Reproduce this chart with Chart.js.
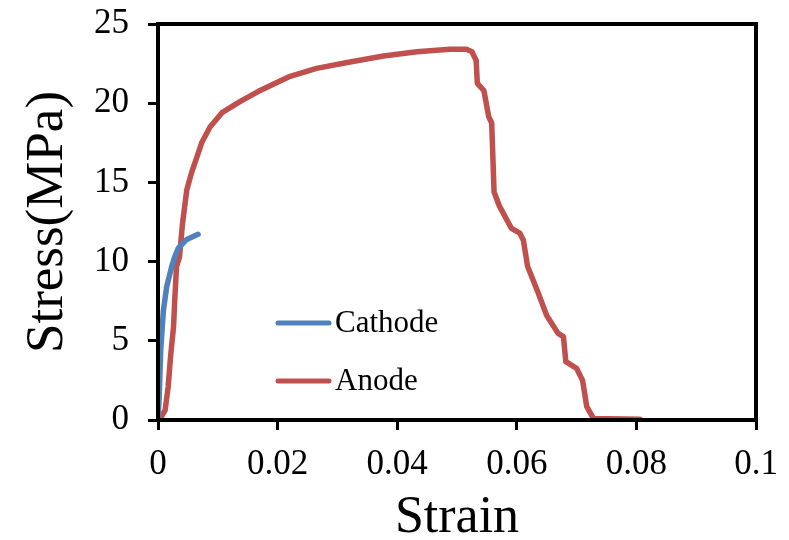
<!DOCTYPE html>
<html>
<head>
<meta charset="utf-8">
<script src="https://cdn.jsdelivr.net/npm/chart.js@4.4.0/dist/chart.umd.min.js"></script>
<style>
  html, body { margin: 0; padding: 0; background: #fff; }
  #wrap { width: 789px; height: 540px; }
</style>
</head>
<body>
<div id="wrap"><canvas id="stressChart" width="789" height="540"></canvas></div>
<script>
// strain / stress values
const cathodeStrain = [0, 0.0002, 0.00045, 0.0009, 0.00145, 0.0023, 0.0028, 0.0034, 0.0048, 0.0067];
const cathodeStress = [0, 1.5, 4.4, 6.9, 8.4, 9.7, 10.3, 10.85, 11.4, 11.72];

const anodeStrain = [0, 0.0003, 0.0012, 0.0017, 0.0021, 0.0026, 0.0028, 0.0031, 0.0036, 0.0041,
    0.0048, 0.0056, 0.0065, 0.0073, 0.0087, 0.0107, 0.0137, 0.0168, 0.0221, 0.0265,
    0.0321, 0.0377, 0.0433, 0.0488, 0.0516, 0.0525, 0.0532, 0.0534, 0.0545, 0.0553,
    0.0558, 0.0562, 0.0571, 0.0591, 0.0605, 0.0611, 0.0618, 0.0636, 0.0650, 0.0669,
    0.0678, 0.0682, 0.0700, 0.0710, 0.0717, 0.0728, 0.0806];
const anodeStress = [0, 0.05, 0.63, 2.1, 4.0, 5.9, 7.6, 9.7, 10.3, 12.4,
    14.5, 15.6, 16.6, 17.5, 18.5, 19.4, 20.1, 20.75, 21.7, 22.2,
    22.6, 22.98, 23.25, 23.4, 23.4, 23.25, 22.7, 21.25, 20.8, 19.15,
    18.75, 14.4, 13.5, 12.1, 11.8, 11.35, 9.7, 8.0, 6.6, 5.47,
    5.26, 3.68, 3.26, 2.5, 0.84, 0.1, 0.05];

const seriesNames = ['Cathode', 'Anode'];
const seriesColors = ['#4F81BD', '#C0504D'];

function toPoints(xs, ys) {
    return xs.map((x, i) => ({ x: x, y: ys[i] }));
}

const serif = 'Liberation Serif, Times New Roman, serif';

// box around the plot + legend inside the plot
const boxAndLegend = {
    id: 'boxAndLegend',
    afterDatasetsDraw(chart) {
        const c = chart.ctx;
        const a = chart.chartArea;
        c.save();
        c.strokeStyle = '#000';
        c.lineWidth = 4;
        c.strokeRect(a.left, a.top, a.right - a.left, a.bottom - a.top);

        const rows = [323, 381];
        chart.data.datasets.forEach(function(ds, i) {
            const y = rows[i];
            c.beginPath();
            c.lineCap = 'round';
            c.lineWidth = 5;
            c.strokeStyle = ds.borderColor;
            c.moveTo(278, y);
            c.lineTo(329, y);
            c.stroke();
            c.fillStyle = '#000';
            c.font = '31px ' + serif;
            c.textBaseline = 'middle';
            c.textAlign = 'left';
            c.fillText(ds.label, 335, y + 1);
        });
        c.restore();
    }
};

var ctx = document.getElementById('stressChart').getContext('2d');
var myChart = new Chart(ctx, {
    type: 'scatter',
    data: {
        datasets: [{
            label: seriesNames[0],
            data: toPoints(cathodeStrain, cathodeStress),
            borderColor: seriesColors[0],
            backgroundColor: seriesColors[0],
            borderWidth: 5.5,
            borderCapStyle: 'round',
            borderJoinStyle: 'round',
            showLine: true,
            pointRadius: 0,
            tension: 0
        },
        {
            label: seriesNames[1],
            data: toPoints(anodeStrain, anodeStress),
            borderColor: seriesColors[1],
            backgroundColor: seriesColors[1],
            borderWidth: 5.5,
            borderCapStyle: 'round',
            borderJoinStyle: 'round',
            showLine: true,
            pointRadius: 0,
            tension: 0
        }]
    },
    options: {
        responsive: false,
        animation: false,
        layout: { padding: { top: 24, right: 33, left: 0, bottom: 0 } },
        plugins: {
            legend: { display: false },
            tooltip: { enabled: false }
        },
        scales: {
            x: {
                type: 'linear',
                min: 0,
                max: 0.1,
                afterFit: function(scale) {
                    scale.height = 120;
                    scale.paddingLeft = 0;
                    scale.paddingRight = 0;
                },
                ticks: {
                    stepSize: 0.02,
                    color: '#000',
                    padding: 14,
                    font: { family: serif, size: 35 },
                    callback: v => String(+v.toFixed(4))
                },
                grid: {
                    drawOnChartArea: false,
                    drawTicks: true,
                    tickLength: 10,
                    tickWidth: 3,
                    tickColor: '#000'
                },
                border: { display: true, color: '#000', width: 4 },
                title: {
                    display: true,
                    text: 'Strain',
                    color: '#000',
                    font: { family: serif, size: 52, lineHeight: 1 },
                    padding: { top: 0, bottom: -4 }
                }
            },
            y: {
                min: 0,
                max: 25,
                afterFit: function(scale) {
                    scale.width = 158;
                    scale.paddingTop = 0;
                    scale.paddingBottom = 0;
                },
                ticks: {
                    stepSize: 5,
                    color: '#000',
                    padding: 19,
                    font: { family: serif, size: 35 }
                },
                grid: {
                    drawOnChartArea: false,
                    drawTicks: true,
                    tickLength: 10,
                    tickWidth: 3,
                    tickColor: '#000'
                },
                border: { display: true, color: '#000', width: 4 },
                title: {
                    display: true,
                    text: 'Stress(MPa)',
                    color: '#000',
                    font: { family: serif, size: 53, lineHeight: 1 },
                    padding: { top: 22, bottom: 0 }
                }
            }
        }
    },
    plugins: [boxAndLegend]
});
</script>
</body>
</html>
